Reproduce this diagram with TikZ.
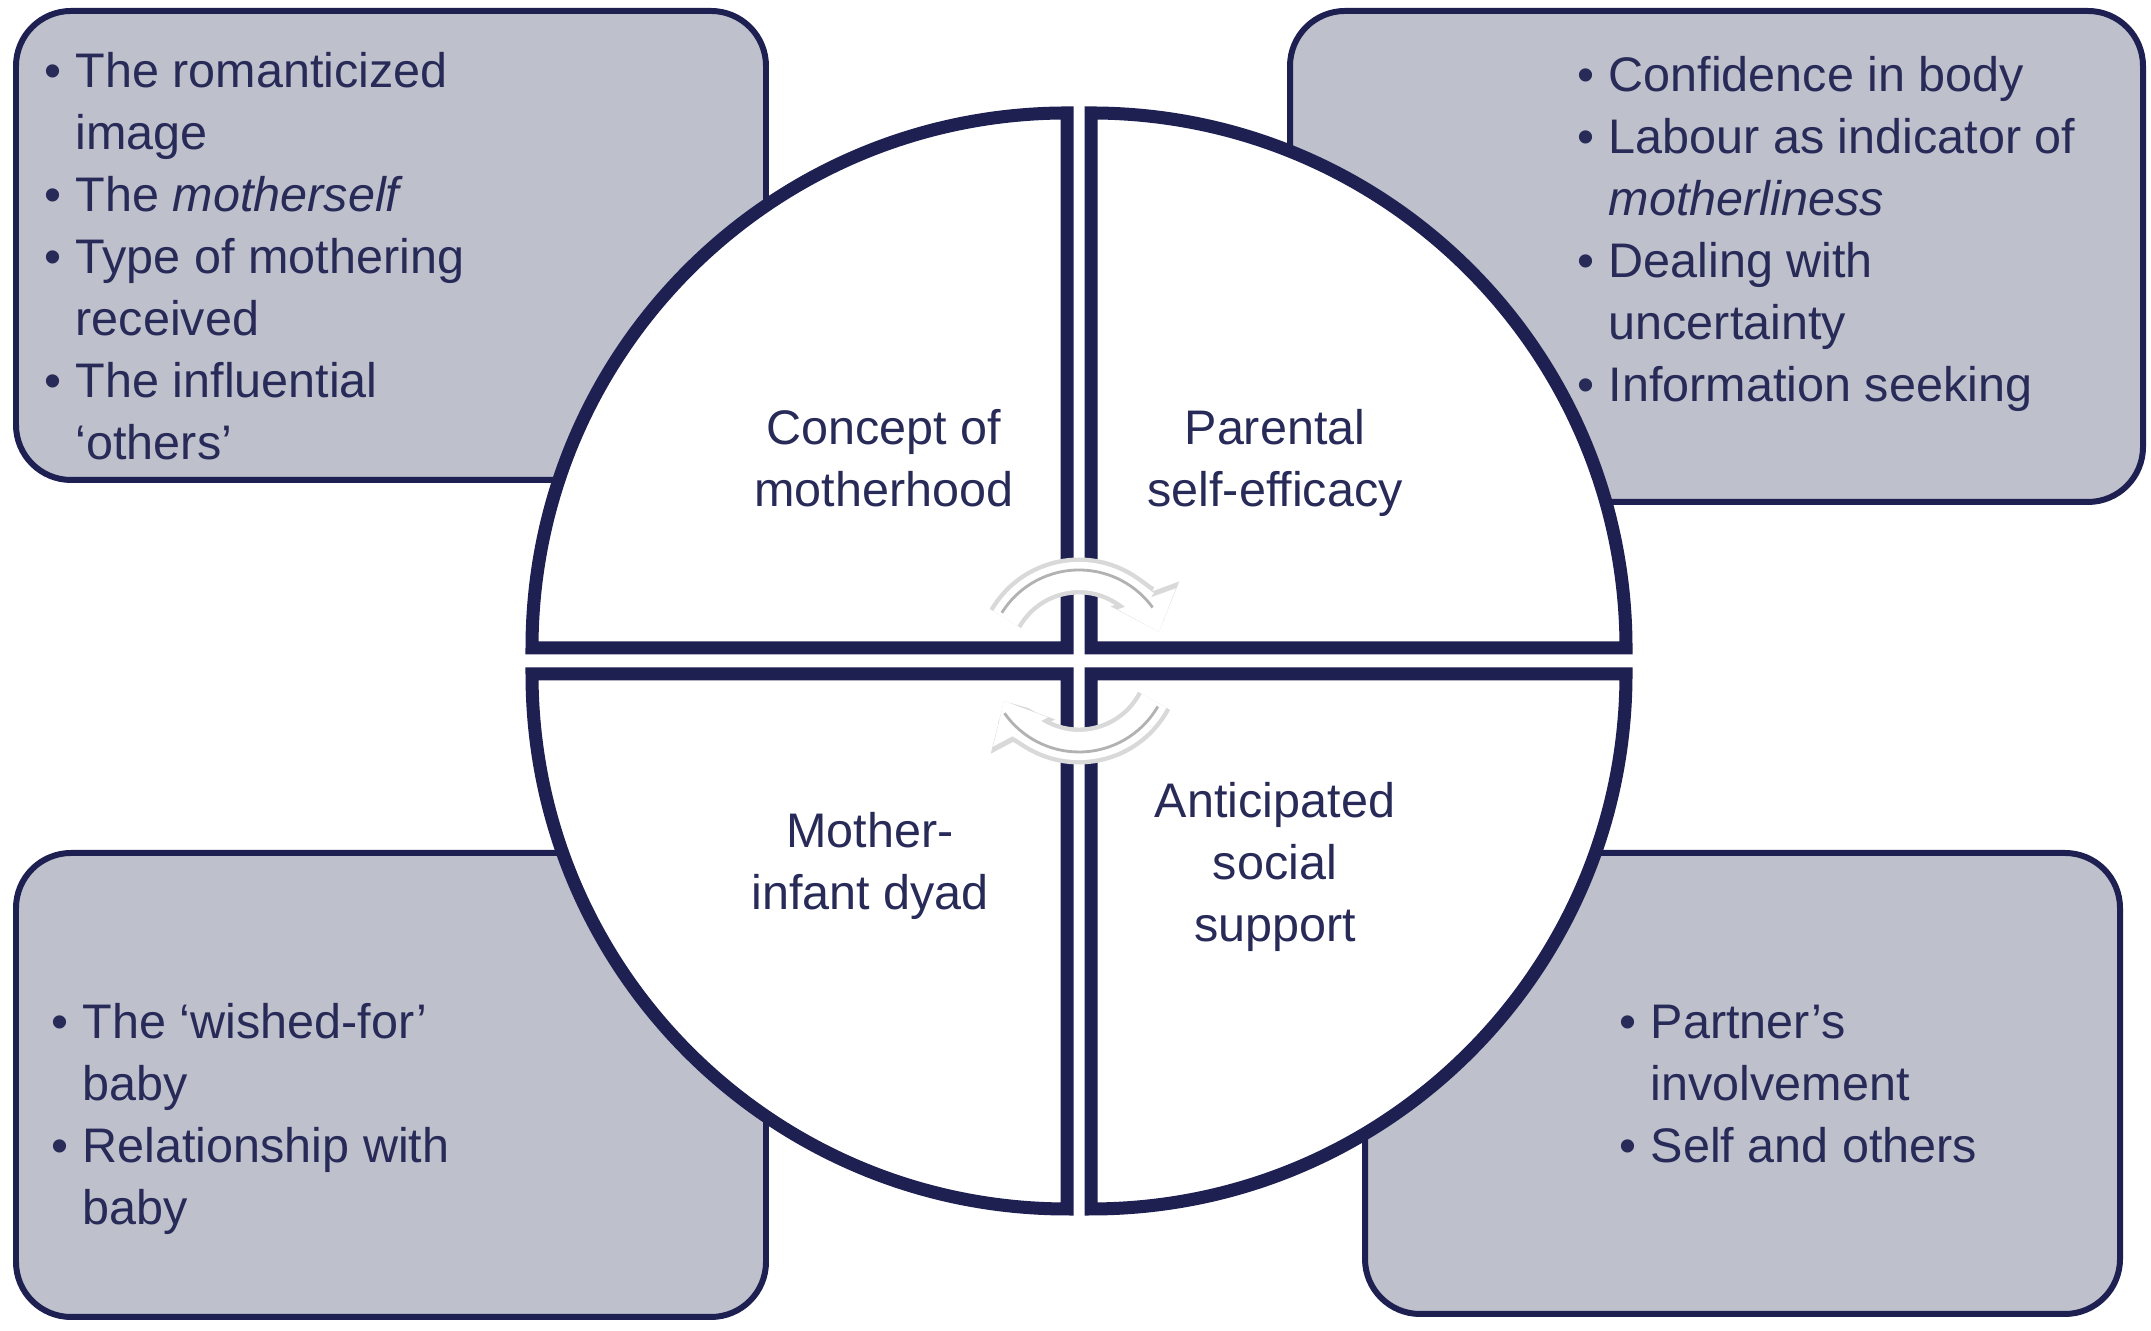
\documentclass[tikz,border=0pt]{standalone}
\usepackage{fontspec}
\setmainfont{Liberation Sans}
\usetikzlibrary{arrows.meta}
\definecolor{navy}{RGB}{30,32,82}
\definecolor{boxgrey}{RGB}{190,192,204}
\definecolor{ink}{RGB}{40,42,88}
\newcommand\bul{\llap{\textbullet\hspace{4pt}}}

\begin{document}
\begin{tikzpicture}[x=0.01cm,y=0.01cm,
    infobox/.style={draw=navy,fill=boxgrey,line width=1.7pt,rounded corners=0.55cm},
    quarter/.style={draw=navy,fill=white,line width=3.7pt},
    itemlist/.style={anchor=base west,inner sep=0pt,text=ink,
      font=\fontsize{13.8pt}{17.6pt}\selectfont},
    quadtext/.style={anchor=base,inner sep=0pt,text=ink,
      font=\fontsize{13.8pt}{17.6pt}\selectfont},
    turnarrow/.style={white,line width=8pt,-{Triangle[length=10pt,width=17pt]},
      preaction={draw=gray!30,line width=10.5pt,-{Triangle[length=11.5pt,width=20pt]}}},
    turnline/.style={gray!60,line width=0.8pt}]
      \useasboundingbox[fill=white] (0,0) rectangle (2151,1331);
      \draw[infobox] (16,851) rectangle (766,1320);
      \draw[infobox] (1290,829) rectangle (2143,1320);
      \draw[infobox] (16,14) rectangle (766,478);
      \draw[infobox] (1365,17) rectangle (2120,478);

      % the four quarters
      \draw[quarter] (1067,683) -- ++(-535,0) arc[start angle=180,end angle=90,radius=535] -- cycle;
      \draw[quarter] (1091,683) -- ++(535,0) arc[start angle=0,end angle=90,radius=535] -- cycle;
      \draw[quarter] (1067,657) -- ++(-535,0) arc[start angle=180,end angle=270,radius=535] -- cycle;
      \draw[quarter] (1091,657) -- ++(535,0) arc[start angle=0,end angle=-90,radius=535] -- cycle;

      \draw[turnarrow] (1079,670) ++(150:85) arc[start angle=150,end angle=20,radius=85];
      \draw[turnarrow] (1079,670) ++(-28:85) arc[start angle=-28,end angle=-152,radius=85];
      \draw[turnline] (1079,670) ++(148:91) arc[start angle=148,end angle=36,radius=91];
      \draw[turnline] (1079,670) ++(-30:91) arc[start angle=-30,end angle=-145,radius=91];

      \node[quadtext] (concept) at (884,886)
        {\begin{tabular}[t]{@{}c@{}}Concept of\\ motherhood\end{tabular}};
      \node[quadtext] (efficacy) at (1275,886)
        {\begin{tabular}[t]{@{}c@{}}Parental\\ self-efficacy\end{tabular}};
      \node[quadtext] (dyad) at (870,483)
        {\begin{tabular}[t]{@{}c@{}}Mother-\\ infant dyad\end{tabular}};
      \node[quadtext] (support) at (1275,513)
        {\begin{tabular}[t]{@{}c@{}}Anticipated\\ social\\ support\end{tabular}};

      \node[itemlist] (conceptlist) at (75,1243) {\begin{tabular}[t]{@{}l@{}}
        \bul The romanticized\\ image\\ \bul The \textit{motherself}\\
        \bul Type of mothering\\ received\\ \bul The influential\\ ‘others’\end{tabular}};
      \node[itemlist] (efficacylist) at (1608,1239) {\begin{tabular}[t]{@{}l@{}}
        \bul Confidence in body\\ \bul Labour as indicator of\\ \textit{motherliness}\\
        \bul Dealing with\\ uncertainty\\ \bul Information seeking\end{tabular}};
      \node[itemlist] (dyadlist) at (82,292) {\begin{tabular}[t]{@{}l@{}}
        \bul The ‘wished-for’\\ baby\\ \bul Relationship with\\ baby\end{tabular}};
      \node[itemlist] (supportlist) at (1650,292) {\begin{tabular}[t]{@{}l@{}}
        \bul Partner’s\\ involvement\\ \bul Self and others\end{tabular}};
    \end{tikzpicture}
\end{document}
